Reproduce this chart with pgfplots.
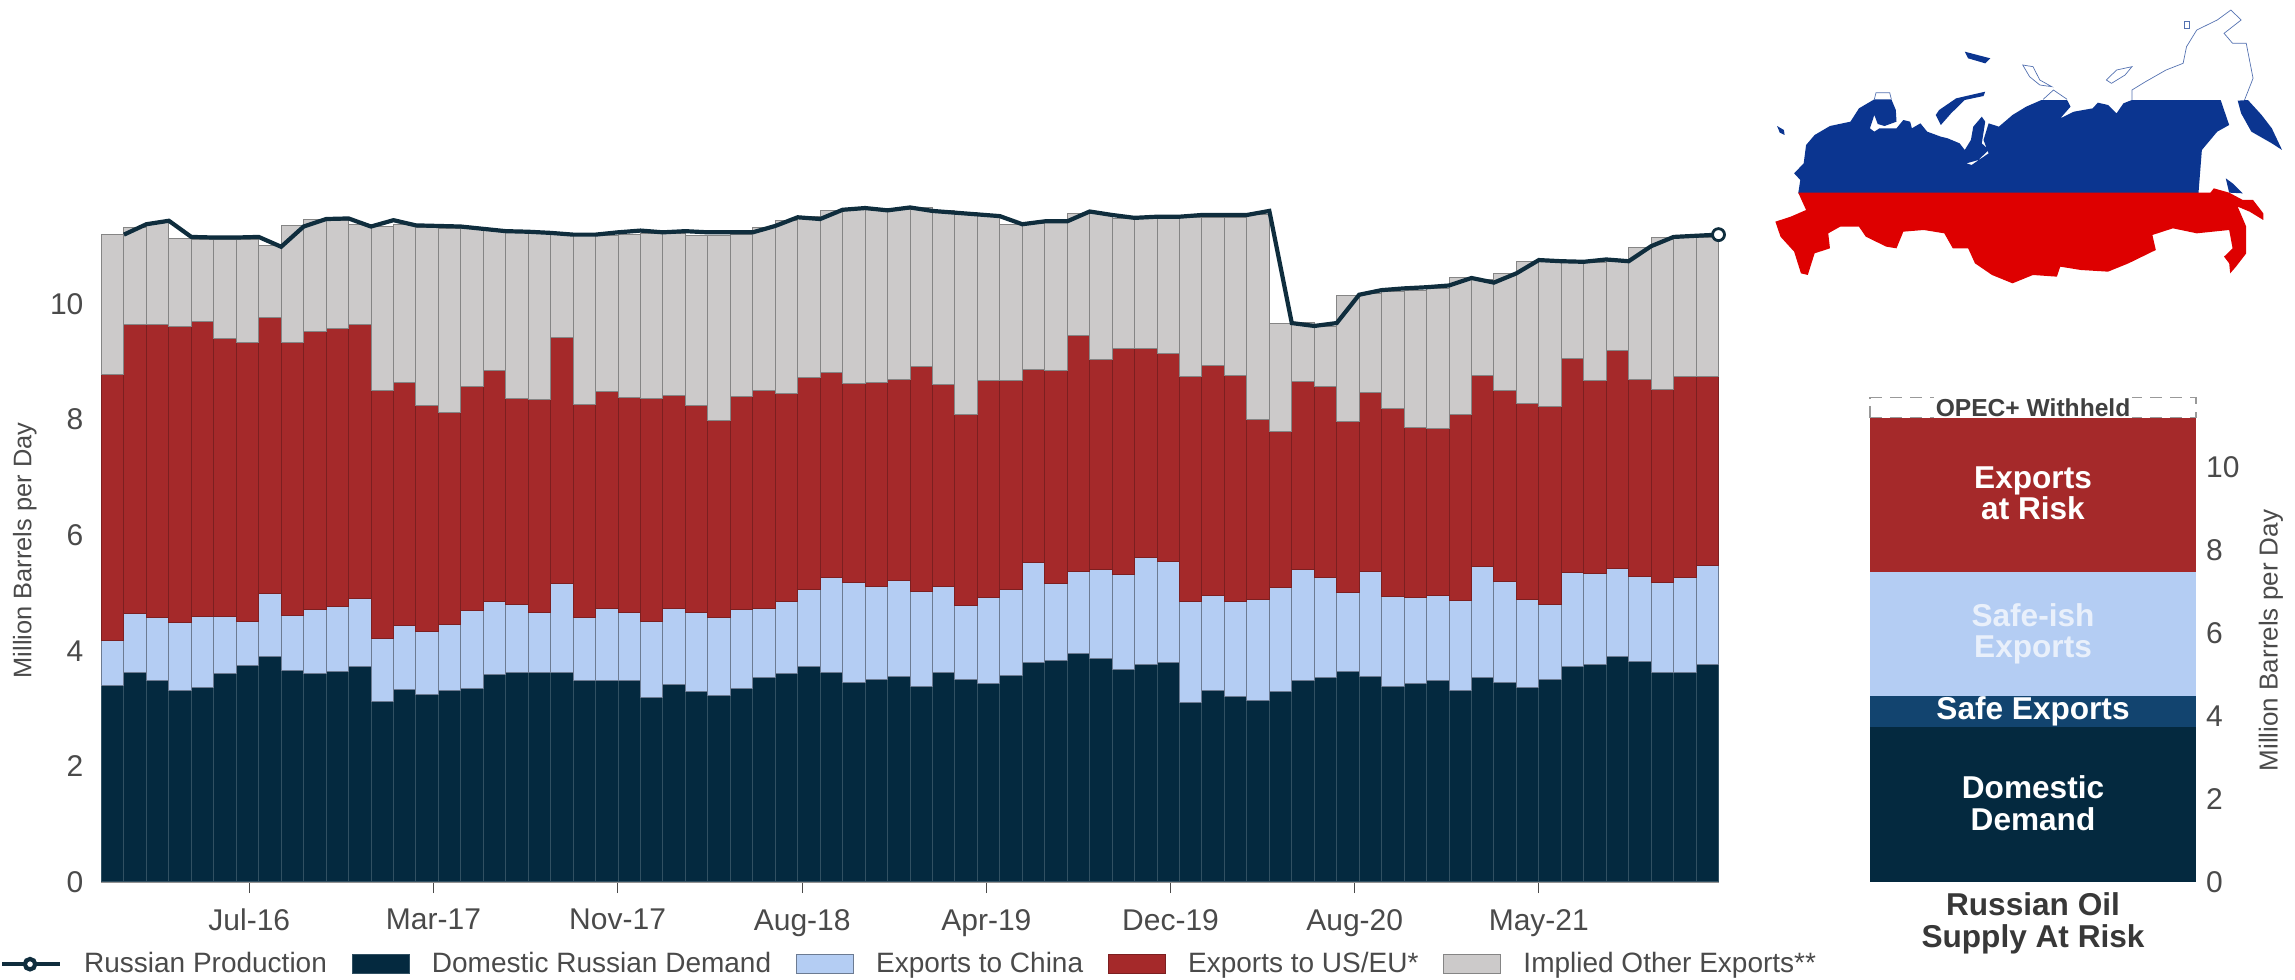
\documentclass[border=0pt]{standalone}
\usepackage{fontspec}
\setmainfont{Liberation Sans}
\usepackage{pgfplots}
\usepackage{pgfplotstable}
\pgfplotsset{compat=1.18}
\definecolor{cdark}{HTML}{04293F}
\definecolor{clight}{HTML}{B4CDF3}
\definecolor{cred}{HTML}{A5292A}
\definecolor{cgray}{HTML}{CCCACA}
\definecolor{csafe}{HTML}{12446F}
\definecolor{cline}{HTML}{0F2D3D}
\definecolor{ctext}{HTML}{4A4A4A}
\definecolor{cmapb}{HTML}{0B3590}
\definecolor{cmapr}{HTML}{DE0000}
\pgfplotsset{
  reverse stacked plots=false,
  swatch/.style={legend image code/.code={\draw[##1] (0pt,-4.6pt) rectangle (28.5pt,4.6pt);}},
  prodline/.style={legend image code/.code={\draw[##1] (0pt,0pt) -- (29pt,0pt); \draw[##1,fill=white] (14pt,0pt) circle (2.6pt);}},
}
\pgfplotstableread{
i d c u o p
0 3.40 0.78 4.60 2.43 11.20
1 3.62 1.03 5.00 1.67 11.38
2 3.48 1.10 5.07 1.76 11.44
3 3.32 1.17 5.12 1.53 11.16
4 3.37 1.23 5.10 1.41 11.15
5 3.60 1.00 4.81 1.71 11.15
6 3.74 0.76 4.84 1.77 11.16
7 3.90 1.09 4.77 1.25 10.99
8 3.66 0.95 4.72 2.02 11.34
9 3.60 1.11 4.81 1.95 11.47
10 3.64 1.13 4.81 1.87 11.48
11 3.72 1.18 4.75 1.72 11.34
12 3.12 1.09 4.30 2.83 11.45
13 3.33 1.11 4.21 2.72 11.36
14 3.24 1.10 3.91 3.07 11.35
15 3.31 1.15 3.67 3.18 11.34
16 3.35 1.34 3.89 2.72 11.30
17 3.59 1.26 4.00 2.42 11.26
18 3.63 1.17 3.56 2.91 11.25
19 3.63 1.03 3.68 2.91 11.23
20 3.63 1.54 4.25 1.80 11.20
21 3.48 1.10 3.68 2.93 11.20
22 3.48 1.25 3.75 2.71 11.24
23 3.48 1.18 3.73 2.81 11.27
24 3.20 1.31 3.86 2.85 11.24
25 3.41 1.33 3.68 2.80 11.26
26 3.29 1.37 3.58 2.94 11.24
27 3.22 1.35 3.41 3.20 11.24
28 3.34 1.37 3.69 2.81 11.24
29 3.54 1.20 3.76 2.83 11.35
30 3.60 1.25 3.61 2.99 11.50
31 3.72 1.34 3.67 2.79 11.47
32 3.62 1.65 3.55 2.80 11.63
33 3.45 1.73 3.45 3.02 11.66
34 3.50 1.61 3.53 3.01 11.62
35 3.55 1.66 3.48 2.95 11.67
36 3.39 1.64 3.89 2.75 11.61
37 3.63 1.49 3.49 3.01 11.58
38 3.50 1.28 3.31 3.50 11.55
39 3.44 1.48 3.76 2.87 11.52
40 3.57 1.49 3.62 2.69 11.38
41 3.79 1.74 3.33 2.53 11.43
42 3.84 1.33 3.68 2.57 11.43
43 3.96 1.41 4.08 2.12 11.60
44 3.87 1.53 3.64 2.53 11.54
45 3.68 1.64 3.91 2.25 11.49
46 3.76 1.85 3.62 2.26 11.51
47 3.80 1.74 3.60 2.36 11.51
48 3.10 1.75 3.89 2.76 11.54
49 3.31 1.65 3.97 2.56 11.54
50 3.21 1.65 3.90 2.73 11.54
51 3.14 1.74 3.13 3.53 11.61
52 3.29 1.81 2.69 1.88 9.67
53 3.48 1.93 3.25 1.02 9.62
54 3.53 1.73 3.31 1.04 9.67
55 3.64 1.37 2.96 2.18 10.16
56 3.56 1.82 3.09 1.72 10.24
57 3.39 1.55 3.26 2.01 10.27
58 3.44 1.48 2.94 2.38 10.29
59 3.49 1.46 2.90 2.42 10.32
60 3.32 1.55 3.21 2.37 10.45
61 3.54 1.92 3.30 1.67 10.37
62 3.45 1.75 3.31 2.01 10.53
63 3.37 1.52 3.38 2.47 10.76
64 3.51 1.29 3.43 2.50 10.74
65 3.72 1.63 3.71 1.65 10.73
66 3.77 1.57 3.33 2.05 10.77
67 3.90 1.52 3.77 1.55 10.74
68 3.81 1.48 3.41 2.28 11.00
69 3.63 1.56 3.33 2.63 11.16
70 3.63 1.63 3.48 2.41 11.18
71 3.76 1.71 3.27 2.41 11.20
}\russia
\begin{document}
\begin{tikzpicture}
\path[use as bounding box] (0,0) rectangle (1147.5pt,489.5pt);
\begin{axis}[
  name=main, at={(50.75pt,48.5pt)}, anchor=south west,
  scale only axis, width=808.5pt, height=346.8pt,
  ybar stacked, bar width=1,
  xmin=-0.5, xmax=71.5, ymin=0, ymax=12,
  clip=false,
  axis x line*=bottom, axis y line*=left,
  x axis line style={draw=ctext!60,line width=0.6pt,-},
  y axis line style={draw=none},
  xtick={6.08,14.28,22.48,30.7,38.9,47.1,55.3,63.5},
  xticklabels={Jul-16,Mar-17,Nov-17,Aug-18,Apr-19,Dec-19,Aug-20,May-21},
  ytick={0,2,4,6,8,10},
  /pgf/number format/assume math mode=true,
  tick align=outside,
  xtick style={draw=ctext,line width=0.6pt}, ytick style={draw=none},
  x tick label style={font=\fontsize{15}{18}\selectfont, text=ctext, yshift=-4.5pt},
  y tick label style={font=\fontsize{15}{18}\selectfont, text=ctext},
  major tick length=5.5pt,
  every axis y label/.style={at={(axis description cs:-0.0475,0.478)},rotate=90,anchor=center,font=\fontsize{12.7}{15}\selectfont,text=ctext},
  ylabel={Million Barrels per Day},
  legend columns=-1,
  legend style={at={(axis description cs:-0.0628,-0.1185)},anchor=west,draw=none,fill=none,inner sep=0pt,outer sep=0pt,
    font=\fontsize{14}{17}\selectfont, text=ctext,
    nodes={inner xsep=0pt,inner ysep=1pt},
    /tikz/every even column/.append style={column sep=12.5pt},
    /tikz/every odd column/.append style={column sep=11pt}},
]
\addlegendimage{prodline,draw=cline,line width=2.1pt}
\addlegendentry{Russian Production}
\addplot[swatch,fill=cdark,draw=cdark!82!white,line width=0.5pt] table[x=i,y=d]{\russia};
\addlegendentry{Domestic Russian Demand}
\addplot[swatch,fill=clight,draw=clight!60!black,line width=0.5pt] table[x=i,y=c]{\russia};
\addlegendentry{Exports to China}
\addplot[swatch,fill=cred,draw=cred!75!black,line width=0.5pt] table[x=i,y=u]{\russia};
\addlegendentry{Exports to US/EU*}
\addplot[swatch,fill=cgray,draw=black!48,line width=0.5pt] table[x=i,y=o]{\russia};
\addlegendentry{Implied Other Exports**}
\addplot[forget plot,stack plots=false,sharp plot,draw=cline,line width=2.1pt,
  mark=*,mark indices={72},mark size=3pt,mark options={fill=white,draw=cline,line width=1.4pt,solid}]
  table[x expr=\thisrow{i}+0.5,y=p]{\russia};
\end{axis}
\begin{axis}[
  name=side, at={(935pt,48.5pt)}, anchor=south west,
  scale only axis, width=163pt, height=249pt,
  ybar stacked, bar width=1,
  xmin=-0.5, xmax=0.5, ymin=0, ymax=12,
  clip=false,
  axis x line*=bottom, axis y line*=right,
  x axis line style={draw=none}, y axis line style={draw=none},
  xtick=\empty,
  ytick={0,2,4,6,8,10},
  ytick style={draw=none},
  /pgf/number format/assume math mode=true,
  y tick label style={font=\fontsize{15}{18}\selectfont,text=ctext,xshift=1.5pt},
  every axis y label/.style={at={(axis description cs:1.23,0.485)},rotate=90,anchor=center,font=\fontsize{13}{15}\selectfont,text=ctext},
  ylabel={Million Barrels per Day},
]
\addplot[fill=cdark,draw=none] coordinates {(0,3.73)};
\addplot[fill=csafe,draw=none] coordinates {(0,0.76)};
\addplot[fill=clight,draw=none] coordinates {(0,2.97)};
\addplot[fill=cred,draw=none] coordinates {(0,3.73)};
\addplot[fill=none,draw=black!40,dashed,line width=0.7pt,dash pattern=on 6pt off 4pt] coordinates {(0,0.48)};
\node[font=\fontsize{12.3}{14}\selectfont\bfseries,text=black!75,fill=white,inner sep=1pt] at (axis cs:0,11.44) {OPEC+ Withheld};
\node[font=\fontsize{15.8}{15.8}\selectfont\bfseries,text=white,align=center] at (axis cs:0,9.37) {Exports\\at Risk};
\node[font=\fontsize{15.8}{15.8}\selectfont\bfseries,text=white!70!clight,align=center] at (axis cs:0,5.98) {Safe-ish\\Exports};
\node[font=\fontsize{15.8}{15.8}\selectfont\bfseries,text=white] at (axis cs:0,4.11) {Safe Exports};
\node[font=\fontsize{15.8}{15.8}\selectfont\bfseries,text=white,align=center] at (axis cs:0,1.90) {Domestic\\Demand};
\node[font=\fontsize{15.8}{16.3}\selectfont\bfseries,text=black!78,align=center] at (axis cs:0,-1.0) {Russian Oil\\Supply At Risk};
\end{axis}
\begin{axis}[
  name=map, at={(880pt,339.5pt)}, anchor=south west,
  scale only axis, width=267.5pt, height=150pt,
  hide axis, xmin=0, xmax=1568, ymin=0, ymax=900, y dir=reverse, clip=false,
]
\addplot[fill=cmapb,draw=none] coordinates {(112,580)(118,540)(100,520)(128,490)(135,435)(160,405)(205,378)(265,365)(290,325)(335,298)(385,298)(398,330)(400,365)(365,378)(345,372)(335,345)(322,385)(335,395)(350,385)(400,385)(420,360)(440,365)(445,385)(470,370)(490,395)(530,410)(550,415)(585,430)(600,450)(618,420)(625,380)(650,350)(660,365)(650,430)(670,450)(640,480)(605,490)(620,495)(670,460)(655,420)(670,370)(700,380)(740,345)(780,320)(825,300)(900,300)(910,320)(880,355)(920,335)(975,325)(990,308)(1020,315)(1045,340)(1065,310)(1090,300)(1350,300)(1375,375)(1340,395)(1295,450)(1285,580)} -- cycle;
\addplot[fill=cmapb,draw=none] coordinates {(1400,302)(1430,300)(1470,345)(1500,385)(1530,450)(1500,430)(1440,395)(1410,340)} -- cycle;
\addplot[fill=cmapb,draw=none] coordinates {(525,330)(575,295)(660,275)(655,288)(600,300)(560,340)(530,375)(515,345)} -- cycle;
\addplot[fill=cmapb,draw=none] coordinates {(50,378)(70,390)(72,405)(58,398)} -- cycle;
\addplot[fill=cmapb,draw=none] coordinates {(600,155)(675,175)(660,190)(610,175)} -- cycle;
\addplot[fill=cmapb,draw=none] coordinates {(1365,535)(1385,550)(1415,580)(1375,578)} -- cycle;
\addplot[fill=cmapr,draw=none] coordinates {(112,578)(1285,578)(1320,578)(1330,565)(1375,578)(1415,600)(1445,600)(1475,640)(1475,660)(1435,635)(1400,620)(1425,680)(1425,760)(1395,800)(1378,820)(1375,790)(1360,770)(1385,745)(1375,690)(1280,700)(1210,685)(1150,705)(1160,750)(1080,790)(1020,815)(940,810)(880,800)(870,830)(800,825)(740,850)(680,825)(630,790)(610,745)(565,745)(540,700)(480,690)(420,695)(400,745)(370,740)(310,710)(290,680)(235,680)(200,700)(205,745)(160,760)(140,825)(120,820)(100,755)(60,710)(45,665)(90,650)(135,630)} -- cycle;
\addplot[draw=cmapb!70,line width=0.35pt] coordinates {(1090,300)(1090,270)(1130,245)(1190,210)(1240,190)(1250,140)(1280,90)(1340,60)(1380,30)(1410,60)(1360,100)(1385,130)(1425,130)(1445,235)(1420,300)};
\addplot[draw=cmapb!70,line width=0.35pt] coordinates {(1015,240)(1045,210)(1090,200)(1070,225)(1030,250)} -- cycle;
\addplot[draw=cmapb!70,line width=0.35pt] coordinates {(770,195)(800,200)(820,240)(855,260)(820,255)(790,230)} -- cycle;
\addplot[draw=cmapb!70,line width=0.35pt] coordinates {(830,298)(860,270)(900,298)};
\addplot[draw=cmapb!70,line width=0.35pt] coordinates {(335,298)(340,278)(380,278)(385,298)};
\addplot[draw=cmapb!70,line width=0.35pt] coordinates {(1243,65)(1257,65)(1257,85)(1243,85)} -- cycle;
\end{axis}
\end{tikzpicture}
\end{document}
